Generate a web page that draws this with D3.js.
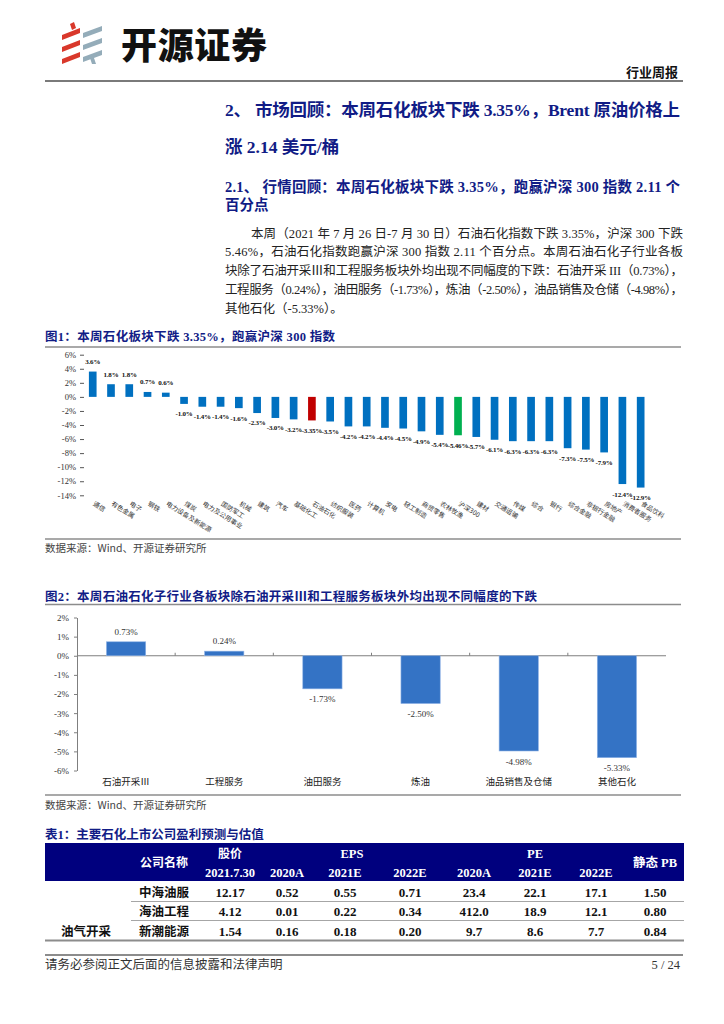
<!DOCTYPE html>
<html>
<head>
<meta charset="utf-8">
<script src="https://cdn.jsdelivr.net/npm/d3@7"></script>
<style>
  body { margin: 0; background: #fff; }
  svg { display: block; }
</style>
</head>
<body>
<div id="page"></div>
<script>
// Data: figure 1, weekly change by sector (%)
const sectorNames = ['通信', '有色金属', '电子', '钢铁', '电力设备及新能源', '煤炭', '电力及公用事业', '国防军工',
  '机械', '建筑', '汽车', '基础化工', '石油石化', '纺织服装', '医药', '计算机', '家电', '轻工制造', '商贸零售',
  '农林牧渔', '沪深300', '建材', '交通运输', '传媒', '综合', '银行', '综合金融', '非银行金融', '房地产',
  '消费者服务', '食品饮料']
const sectorChange = [3.6, 1.8, 1.8, 0.7, 0.6, -1.0, -1.4, -1.4, -1.6, -2.3, -3.0, -3.2, -3.35, -3.5, -4.2, -4.2,
  -4.4, -4.5, -4.9, -5.4, -5.46, -5.7, -6.1, -6.3, -6.3, -6.3, -7.3, -7.5, -7.9, -12.4, -12.9]
const sectorTicks = [6, 4, 2, 0, -2, -4, -6, -8, -10, -12, -14]

// Data: figure 2, petrochemical sub-sectors (%)
const subNames = ['石油开采Ⅲ', '工程服务', '油田服务', '炼油', '油品销售及仓储', '其他石化']
const subChange = [0.73, 0.24, -1.73, -2.50, -4.98, -5.33]
const subTicks = [2, 1, 0, -1, -2, -3, -4, -5, -6]

// Data: table 1
const tableCompanies = ['中海油服', '海油工程', '新潮能源']
const tablePrice = ['12.17', '4.12', '1.54']
const tableEps = [['0.52', '0.55', '0.71'], ['0.01', '0.22', '0.34'], ['0.16', '0.18', '0.20']]
const tablePe = [['23.4', '22.1', '17.1'], ['412.0', '18.9', '12.1'], ['9.7', '8.6', '7.7']]
const tablePb = ['1.50', '0.80', '0.84']

// Constants
const NAVY = '#111c86'
const GRAY_LINE = '#8c8c8c'
const SERIF = "'Liberation Serif', 'Noto Sans CJK SC', serif"
const SANS = "'Noto Sans CJK SC', sans-serif"

const svg = d3.select('#page').append('svg')
  .attr('width', 724)
  .attr('height', 1024)

function hline(y, x0, x1, w, color) {
  svg.append('line')
    .attr('x1', x0).attr('x2', x1)
    .attr('y1', y).attr('y2', y)
    .attr('stroke', color || GRAY_LINE)
    .attr('stroke-width', w || 1.5)
}

function label(x, y, txt, opts) {
  opts = opts || {}
  const t = svg.append('text')
    .attr('x', x)
    .attr('y', y)
    .text(txt)
    .style('font-family', opts.family || SERIF)
    .style('font-size', (opts.size || 12) + 'px')
    .style('font-weight', opts.weight || 'normal')
    .attr('fill', opts.fill || '#222')
    .attr('text-anchor', opts.anchor || 'start')
  if (opts.len) t.attr('textLength', opts.len).attr('lengthAdjust', 'spacing')
  return t
}

// Header / logo
const logo = svg.append('g')
logo.selectAll('path.red')
  .data([30, 42, 54])
  .enter()
  .append('path')
  .attr('d', y => `M62,${y + 5} L80,${y - 2} L80,${y + 3} L62,${y + 10} Z`)
  .attr('fill', '#d9382b')
logo.append('path').attr('d', 'M70,24 L74,22 L76,28 L72,30 Z').attr('fill', '#d9382b')
logo.selectAll('path.blue')
  .data([28, 40, 52])
  .enter()
  .append('path')
  .attr('d', y => `M83,${y + 5} L102,${y - 2} L102,${y + 3} L83,${y + 10} Z`)
  .attr('fill', '#94acb9')
logo.append('path').attr('d', 'M90,58 L94,58 L96,64 L92,64 Z').attr('fill', '#94acb9')

label(121, 59, '开源证券', { family: SANS, size: 36, weight: 900, fill: '#111', len: 146 })
label(678, 77, '行业周报', { family: SANS, size: 13, weight: 700, fill: '#111', anchor: 'end' })
hline(81, 45, 683, 1.8, '#7a7a7a')

// Headings
label(225, 116, '2、 市场回顾：本周石化板块下跌 3.35%，Brent 原油价格上', { size: 17.5, weight: 700, fill: NAVY, len: 455 })
label(225, 153, '涨 2.14 美元/桶', { size: 17.5, weight: 700, fill: NAVY })
label(225, 192, '2.1、 行情回顾：本周石化板块下跌 3.35%，跑赢沪深 300 指数 2.11 个', { size: 14.5, weight: 700, fill: NAVY, len: 455 })
label(225, 210, '百分点', { size: 14.5, weight: 700, fill: NAVY })

// Body text
const bodyLines = [
  [251, '本周（2021 年 7 月 26 日-7 月 30 日）石油石化指数下跌 3.35%，沪深 300 下跌', 432],
  [225, '5.46%，石油石化指数跑赢沪深 300 指数 2.11 个百分点。本周石油石化子行业各板', 458],
  [225, '块除了石油开采Ⅲ和工程服务板块外均出现不同幅度的下跌：石油开采 III（0.73%），', 458],
  [225, '工程服务（0.24%），油田服务（-1.73%），炼油（-2.50%），油品销售及仓储（-4.98%），', 458],
  [225, '其他石化（-5.33%）。', 0]
]
bodyLines.forEach((d, i) => {
  label(d[0], 237.5 + i * 18.8, d[1], { size: 12.5, fill: '#222', len: d[2] || null })
})

// Figure 1
label(45, 340.5, '图1：本周石化板块下跌 3.35%，跑赢沪深 300 指数', { size: 12.5, weight: 700, fill: NAVY, len: 290 })
hline(347, 45, 681)

const x1 = d3.scaleBand()
  .domain(sectorNames)
  .range([83.6, 649.8])
  .paddingInner(0.58)
  .paddingOuter(0.29)
const y1 = d3.scaleLinear()
  .domain([-14, 6])
  .range([495.3, 354.7])

const axis1 = svg.append('g')
  .attr('transform', 'translate(84,0)')
  .call(d3.axisLeft(y1).tickValues(sectorTicks).tickFormat(d => d + '%').tickSize(4).tickPadding(4))
axis1.select('.domain').remove()
axis1.selectAll('line').attr('stroke', '#555')
axis1.selectAll('text')
  .style('font-family', SERIF)
  .style('font-size', '8.5px')
  .attr('fill', '#333')

function barColor(name) {
  if (name === '石油石化') return '#c00000'
  if (name === '沪深300') return '#00b050'
  return '#0070c0'
}

function pct(v) {
  const s = Math.round(v * 10) === v * 10 ? v.toFixed(1) : v.toFixed(2)
  return s + '%'
}

const bars1 = svg.append('g')
bars1.selectAll('rect')
  .data(sectorNames)
  .enter()
  .append('rect')
  .attr('x', d => x1(d))
  .attr('width', x1.bandwidth())
  .attr('y', (d, i) => y1(Math.max(0, sectorChange[i])))
  .attr('height', (d, i) => Math.abs(y1(sectorChange[i]) - y1(0)))
  .attr('fill', d => barColor(d))

bars1.selectAll('text.val')
  .data(sectorNames)
  .enter()
  .append('text')
  .attr('class', 'val')
  .attr('x', d => x1(d) + x1.bandwidth() / 2)
  .attr('y', (d, i) => sectorChange[i] >= 0 ? y1(sectorChange[i]) - 10 : y1(sectorChange[i]) + 10)
  .attr('dy', '0.35em')
  .attr('text-anchor', 'middle')
  .text((d, i) => pct(sectorChange[i]))
  .style('font-family', SERIF)
  .style('font-size', '7px')
  .style('font-weight', 700)
  .style('letter-spacing', '-0.2px')
  .attr('fill', '#111')

bars1.selectAll('text.cat')
  .data(sectorNames)
  .enter()
  .append('text')
  .attr('class', 'cat')
  .attr('transform', d => `translate(${x1(d) + x1.bandwidth() / 2 + 1},503) rotate(32)`)
  .attr('dy', '0.35em')
  .text(d => d)
  .style('font-family', SANS)
  .style('font-size', '6.5px')
  .attr('fill', '#333')

hline(539, 45, 681)
label(45, 552, '数据来源：Wind、开源证券研究所', { family: SANS, size: 10.5, fill: '#444' })

// Figure 2
label(45, 600.5, '图2：本周石油石化子行业各板块除石油开采Ⅲ和工程服务板块外均出现不同幅度的下跌', { size: 12.5, weight: 700, fill: NAVY, len: 492 })
hline(604.5, 45, 681)

const x2 = d3.scaleBand()
  .domain(subNames)
  .range([77, 666])
  .paddingInner(0.6)
  .paddingOuter(0.3)
const y2 = d3.scaleLinear()
  .domain([-6, 2])
  .range([770.5, 617.5])

const axis2 = svg.append('g')
  .attr('transform', 'translate(77,0)')
  .call(d3.axisLeft(y2).tickValues(subTicks).tickFormat(d => d + '%').tickSize(3).tickSizeOuter(0).tickPadding(5))
axis2.selectAll('line, path').attr('stroke', '#7f7f7f')
axis2.selectAll('text')
  .style('font-family', SERIF)
  .style('font-size', '9px')
  .attr('fill', '#333')

// zero line with category ticks
const zeroAxis = svg.append('g')
  .attr('transform', `translate(0,${y2(0)})`)
zeroAxis.append('line')
  .attr('x1', 77).attr('x2', 666)
  .attr('stroke', '#7f7f7f')
zeroAxis.selectAll('line.tick')
  .data(d3.range(1, subNames.length))
  .enter()
  .append('line')
  .attr('class', 'tick')
  .attr('x1', i => x2.range()[0] + i * x2.step())
  .attr('x2', i => x2.range()[0] + i * x2.step())
  .attr('y1', 0).attr('y2', -3)
  .attr('stroke', '#7f7f7f')

const bars2 = svg.append('g')
bars2.selectAll('rect')
  .data(subNames)
  .enter()
  .append('rect')
  .attr('x', d => x2(d))
  .attr('width', x2.bandwidth())
  .attr('y', (d, i) => y2(Math.max(0, subChange[i])))
  .attr('height', (d, i) => Math.abs(y2(subChange[i]) - y2(0)))
  .attr('fill', '#3473c5')
  .attr('stroke', '#8fb3e6')
  .attr('stroke-width', 0.6)

bars2.selectAll('text.val')
  .data(subNames)
  .enter()
  .append('text')
  .attr('class', 'val')
  .attr('x', d => x2(d) + x2.bandwidth() / 2)
  .attr('y', (d, i) => subChange[i] >= 0 ? y2(subChange[i]) - 10 : y2(subChange[i]) + 10.5)
  .attr('dy', '0.35em')
  .attr('text-anchor', 'middle')
  .text((d, i) => subChange[i].toFixed(2) + '%')
  .style('font-family', SERIF)
  .style('font-size', '9px')
  .attr('fill', '#333')

bars2.selectAll('text.cat')
  .data(subNames)
  .enter()
  .append('text')
  .attr('class', 'cat')
  .attr('x', d => x2(d) + x2.bandwidth() / 2)
  .attr('y', 785)
  .attr('text-anchor', 'middle')
  .text(d => d)
  .style('font-family', SANS)
  .style('font-size', '9.5px')
  .attr('fill', '#222')

hline(795, 45, 681)
label(45, 809, '数据来源：Wind、开源证券研究所', { family: SANS, size: 10.5, fill: '#444' })

// Table 1
label(45, 838.5, '表1：主要石化上市公司盈利预测与估值', { size: 12.5, weight: 700, fill: NAVY })
svg.append('rect')
  .attr('x', 45).attr('y', 843)
  .attr('width', 639).attr('height', 38)
  .attr('fill', '#00007e')

const colX = [164, 230, 287, 345, 410, 474, 535, 596, 655]
const hdr = { size: 12.5, weight: 700, fill: '#fff', anchor: 'middle' }
label(colX[0], 867, '公司名称', Object.assign({}, hdr, { family: SANS, size: 12 }))
label(colX[1], 857.5, '股价', Object.assign({}, hdr, { family: SANS, size: 12 }))
label(colX[3] + 7, 857.5, 'EPS', hdr)
label(colX[6], 857.5, 'PE', hdr)
label(colX[8], 867, '静态 PB', hdr)
const subHeads = ['2021.7.30', '2020A', '2021E', '2022E', '2020A', '2021E', '2022E']
subHeads.forEach((h, i) => label(colX[i + 1], 876.5, h, hdr))

const rowY = [892, 911, 931]
const cell = { size: 13, weight: 700, fill: '#111', anchor: 'middle' }
tableCompanies.forEach((name, r) => {
  const vals = [tablePrice[r]].concat(tableEps[r], tablePe[r], [tablePb[r]])
  label(colX[0], rowY[r] + 4.5, name, Object.assign({}, cell, { family: SANS, size: 12.5 }))
  vals.forEach((v, c) => label(colX[c + 1], rowY[r] + 4.5, v, cell))
})
label(86, 935.5, '油气开采', Object.assign({}, cell, { family: SANS, size: 12.5 }))
hline(901.5, 131, 684, 1, '#a6a6a6')
hline(920.5, 131, 684, 1, '#a6a6a6')
hline(940.5, 45, 684, 2, '#8c8c8c')

// Footer
hline(955, 45, 683, 1.8, '#8c8c8c')
label(45, 968.5, '请务必参阅正文后面的信息披露和法律声明', { family: SANS, size: 12.5, fill: '#333' })
label(680, 968.5, '5 / 24', { size: 12.5, fill: '#333', anchor: 'end' })
</script>
</body>
</html>
